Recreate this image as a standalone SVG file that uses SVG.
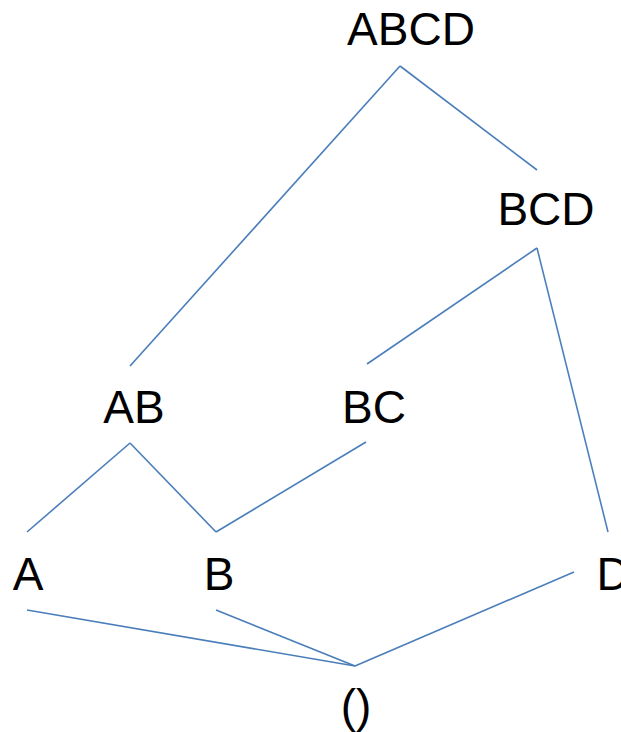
<svg xmlns="http://www.w3.org/2000/svg" width="621" height="732" viewBox="0 0 621 732">
<style>
text{font-family:"Liberation Sans",Arial,sans-serif;font-size:46px;fill:#000;text-anchor:middle}
.c line{stroke:#4a7ebb;stroke-width:1.6;fill:none}
</style>
<rect width="621" height="732" fill="#fff"/>
<g class="c" id="connectors">
<line x1="400" y1="66" x2="130" y2="366"/>
<line x1="400" y1="66" x2="537" y2="170"/>
<line x1="537" y1="248" x2="367" y2="364"/>
<line x1="537" y1="248" x2="608" y2="532"/>
<line x1="130" y1="443" x2="27" y2="532"/>
<line x1="130" y1="443" x2="216" y2="532"/>
<line x1="216" y1="532" x2="366" y2="442"/>
<line x1="27" y1="610" x2="355" y2="666"/>
<line x1="216" y1="610" x2="355" y2="666"/>
<line x1="574" y1="572" x2="355" y2="666"/>
</g>
<g id="n-ABCD"><text x="411" y="45">ABCD</text></g>
<g id="n-BCD"><text x="546" y="225">BCD</text></g>
<g id="n-AB"><text x="134" y="423">AB</text></g>
<g id="n-BC"><text x="374" y="423">BC</text></g>
<g id="n-A"><text x="28" y="590">A</text></g>
<g id="n-B"><text x="219" y="590">B</text></g>
<g id="n-D"><text x="613" y="590">D</text></g>
<g id="n-empty"><text x="356" y="722">()</text></g>
</svg>
